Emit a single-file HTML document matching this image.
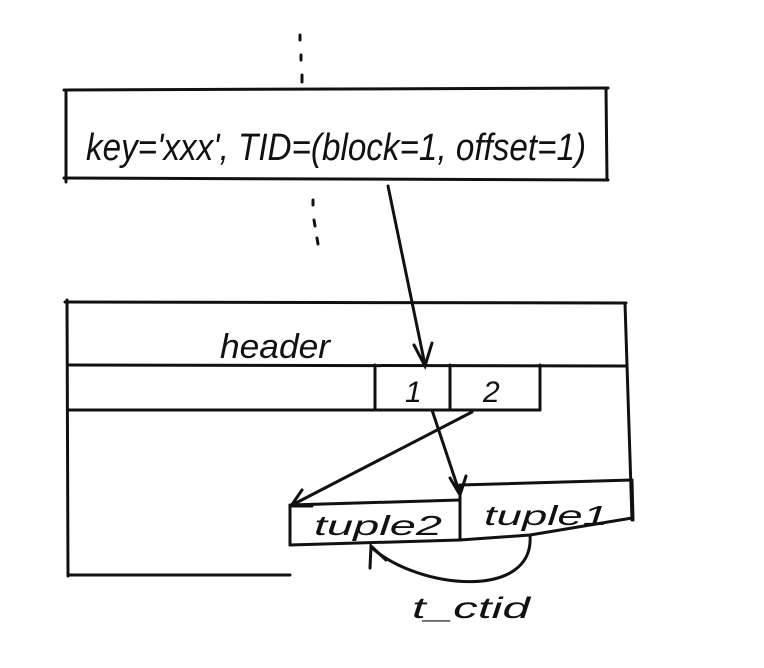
<!DOCTYPE html>
<html><head><meta charset="utf-8"><style>
html,body{margin:0;padding:0;background:#fff;}
svg{display:block}
text{font-family:"Liberation Sans",sans-serif;fill:#111}
</style></head><body>
<svg width="764" height="668" viewBox="0 0 764 668" xmlns="http://www.w3.org/2000/svg">
<g stroke="#111" stroke-width="3" fill="none" stroke-linecap="round">
<line x1="300" y1="35" x2="300" y2="40"/><line x1="301" y1="55" x2="301" y2="60"/><line x1="302" y1="75" x2="302" y2="82"/>
<path d="M64 90 L608 88"/><path d="M66 90 L66 182"/><path d="M606 88 L607 180"/><path d="M64 178 L608 180"/>
<line x1="313" y1="200" x2="313" y2="205"/><line x1="314" y1="220" x2="315" y2="226"/><line x1="317" y1="238" x2="318" y2="244"/>
<path d="M388 186 L425 365"/><path d="M414 345 L425 366 L432 343"/>
<path d="M65 302 L626 303"/><path d="M67 300 L68 576"/><path d="M625 303 L632 520"/>
<path d="M68 575 L290 575"/>
<path d="M68 365 L625 366"/>
<path d="M68 410 L540 410"/>
<path d="M375 365 L375 410"/><path d="M450 365 L450 410"/><path d="M540 365 L540 410"/>
<path d="M432 410 L460 494"/><path d="M450 478 L460 495 L466 476"/>
<path d="M472 412 L292 505"/><path d="M302 490 L291 506 L312 506"/>
<path d="M460 485 L632 480"/><path d="M460 485 L460 540"/><path d="M632 480 L633 520"/><path d="M460 540 L530 535 L632 518"/>
<path d="M290 505 L460 500"/><path d="M290 505 L290 545"/><path d="M290 545 L460 540"/>
<path d="M530 535 C535 600 420 590 372 548"/><path d="M370 568 L371 546 L386 560"/>
</g>
<text x="86" y="160" font-size="38" font-style="italic" textLength="500" lengthAdjust="spacingAndGlyphs">key='xxx', TID=(block=1, offset=1)</text>
<text x="220" y="358" font-size="34" font-style="italic" textLength="110" lengthAdjust="spacingAndGlyphs">header</text>
<text x="405" y="402" font-size="30" font-style="italic">1</text>
<text x="483" y="402" font-size="30" font-style="italic">2</text>
<text x="314" y="535" font-size="28" font-style="italic" textLength="128" lengthAdjust="spacingAndGlyphs">tuple2</text>
<text x="484" y="525" font-size="28" font-style="italic" textLength="124" lengthAdjust="spacingAndGlyphs">tuple1</text>
<text x="412" y="618" font-size="30" font-style="italic" textLength="118" lengthAdjust="spacingAndGlyphs">t_ctid</text>
</svg>
</body></html>
